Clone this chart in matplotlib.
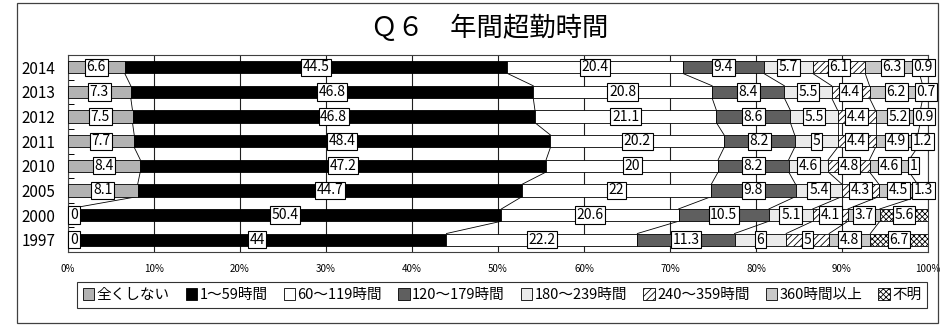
import matplotlib
matplotlib.use("Agg")
import matplotlib.pyplot as plt
from matplotlib.patches import Rectangle, Patch
import numpy as np

plt.rcParams['font.family'] = ['Noto Sans CJK JP', 'DejaVu Sans']
plt.rcParams['hatch.linewidth'] = 0.6

years = ["2014", "2013", "2012", "2011", "2010", "2005", "2000", "1997"]
categories = ["全くしない", "1～59時間", "60～119時間", "120～179時間",
              "180～239時間", "240～359時間", "360時間以上", "不明"]

none_at_all = [6.6, 7.3, 7.5, 7.7, 8.4, 8.1, 0, 0]
h1_59 = [44.5, 46.8, 46.8, 48.4, 47.2, 44.7, 50.4, 44]
h60_119 = [20.4, 20.8, 21.1, 20.2, 20, 22, 20.6, 22.2]
h120_179 = [9.4, 8.4, 8.6, 8.2, 8.2, 9.8, 10.5, 11.3]
h180_239 = [5.7, 5.5, 5.5, 5, 4.6, 5.4, 5.1, 6]
h240_359 = [6.1, 4.4, 4.4, 4.4, 4.8, 4.3, 4.1, 5]
h360_plus = [6.3, 6.2, 5.2, 4.9, 4.6, 4.5, 3.7, 4.8]
unknown = [0.9, 0.7, 0.9, 1.2, 1, 1.3, 5.6, 6.7]

series = [none_at_all, h1_59, h60_119, h120_179, h180_239, h240_359, h360_plus, unknown]
fills = ["#b3b3b3", "#000000", "#ffffff", "#5f5f5f", "#ebebeb", "#ffffff", "#c8c8c8", "#ffffff"]
hatches = [None, None, None, None, None, "/////", None, "xxxxxx"]

fig = plt.figure(figsize=(9.49, 3.26), dpi=100)
fig.patches.append(Rectangle((17 / 949, 3 / 326), 921 / 949, 320 / 326,
                             transform=fig.transFigure, fill=False,
                             ec="#404040", lw=0.9))

ax = fig.add_axes([68 / 949, 1 - 252 / 326, 860 / 949, 197 / 326])
y = np.arange(len(years))
bar_h = 0.5
left = np.zeros(len(years))
bounds = []
label_box = dict(boxstyle="square,pad=0.12", fc="white", ec="black", lw=0.8)
for vals, fc, ht, name in zip(series, fills, hatches, categories):
    vals = np.array(vals, dtype=float)
    ax.barh(y, vals, left=left, height=bar_h, color=fc, edgecolor="black",
            linewidth=0.6, hatch=ht, label=name, zorder=3)
    for yi, (l, v) in enumerate(zip(left, vals)):
        txt = f"{v:g}"
        if v == 0:
            ax.text(l + 0.25, yi, txt, ha="left", va="center", fontsize=10,
                    zorder=6, bbox=label_box)
        else:
            ax.text(l + v / 2, yi, txt, ha="center", va="center", fontsize=10,
                    zorder=6, bbox=label_box)
    left = left + vals
    bounds.append(left.copy())

# series lines joining segment boundaries of adjacent bars
for b in bounds[:-1]:
    for i in range(len(years) - 1):
        ax.plot([b[i], b[i + 1]], [i + bar_h / 2, i + 1 - bar_h / 2],
                color="black", lw=0.6, zorder=2)

ax.set_xlim(0, 100)
ax.set_ylim(len(years) - 0.5, -0.5)
ax.set_xticks(np.arange(0, 101, 10))
ax.set_xticklabels([f"{v}%" for v in range(0, 101, 10)], fontsize=7)
ax.tick_params(axis="x", length=0, pad=9)
ax.set_yticks(y)
ax.set_yticklabels(years, fontsize=11)
ax.tick_params(axis="y", length=0, pad=9)
ax.set_yticks(np.arange(-0.5, len(years), 1), minor=True)
ax.tick_params(axis="y", which="minor", length=4, direction="in", width=0.7)
ax.grid(axis="x", color="#202020", lw=0.8, zorder=0)
for s in ax.spines.values():
    s.set_color("#404040")
    s.set_linewidth(0.8)

fig.text(490 / 949, 1 - 28 / 326, "Ｑ６　年間超勤時間", ha="center", va="center", fontsize=19)

handles = [Patch(facecolor=fc, edgecolor="black", hatch=ht, linewidth=0.6)
           for fc, ht in zip(fills, hatches)]
leg = fig.legend(handles, categories, loc="center", ncol=8,
                 bbox_to_anchor=(502 / 949, 1 - 295 / 326), fontsize=10.5,
                 handlelength=0.8, handleheight=0.8, handletextpad=0.15,
                 columnspacing=1.1, frameon=True, fancybox=False,
                 borderpad=0.4, borderaxespad=0)
leg.get_frame().set_edgecolor("black")
leg.get_frame().set_linewidth(0.8)

fig.savefig("out.png", dpi=100)
